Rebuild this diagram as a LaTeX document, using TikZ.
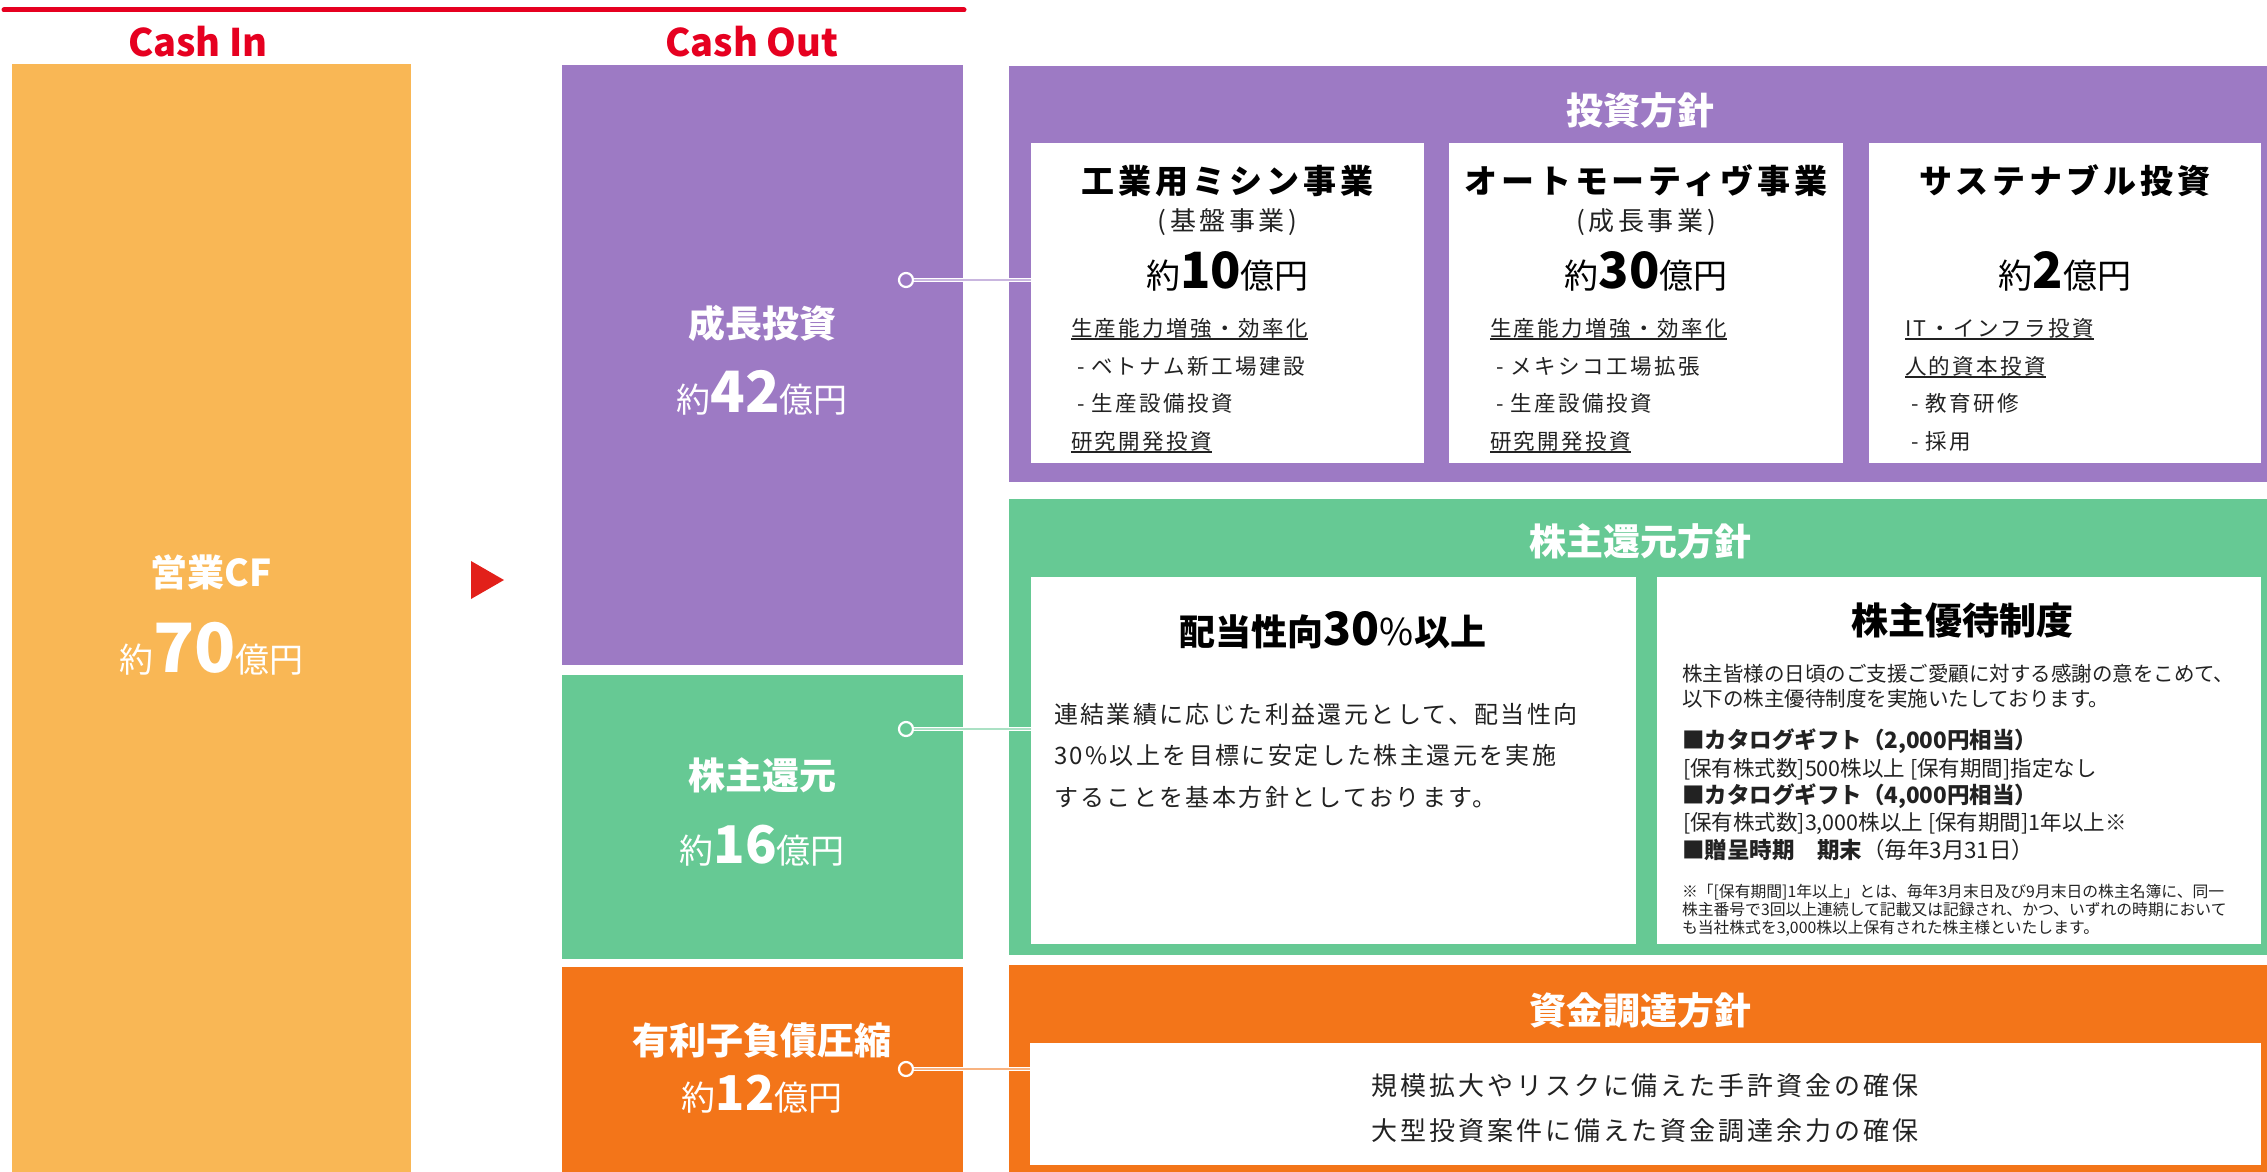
\documentclass[tikz,border=0pt]{standalone}
\usepackage{fontspec}
\setmainfont{Noto Sans CJK JP}
\definecolor{cin}{RGB}{249,183,85}
\definecolor{pur}{RGB}{157,122,196}
\definecolor{grn}{RGB}{102,201,148}
\definecolor{org}{RGB}{243,117,25}
\definecolor{redA}{RGB}{230,0,32}
\definecolor{triA}{RGB}{226,32,26}
\definecolor{ink}{RGB}{34,34,34}
\newcommand\fsz[1]{\fontsize{#1}{#1}\selectfont}
\newcommand\trk[1]{\addfontfeatures{LetterSpace=#1}}
\newsavebox\ulbox
\newcommand\ul[1]{\sbox\ulbox{#1}\rlap{\rule[-3.5pt]{\wd\ulbox}{1.4pt}}\usebox\ulbox}
\newcommand\amt[2]{{\fsz{34}約}{\bfseries\fsz{#1}#2}{\fsz{34}億円}}
\begin{document}
\begin{tikzpicture}[x=1pt,y=-1pt,
  box/.style={rectangle, draw=none, inner sep=0, outer sep=0, anchor=north west},
  txt/.style={inner sep=0, outer sep=0, anchor=base},
  ltxt/.style={inner sep=0, outer sep=0, anchor=base west},
  wlab/.style={txt, text=white, font=\bfseries\fsz{37}},
  wamt/.style={txt, text=white},
  ttl/.style={txt, text=black, font=\bfseries\fsz{33}\trk{12}},
  sub/.style={txt, text=ink, font=\fsz{26}\trk{14}},
  item/.style={ltxt, text=ink, font=\fsz{21.5}\trk{11.6}},
  bodyL/.style={ltxt, text=ink, font=\fsz{24}\trk{10}},
  bodyR/.style={ltxt, text=ink, font=\fsz{20.5}},
  note/.style={ltxt, text=ink, font=\fsz{15.8}},
  bodyO/.style={txt, text=ink, font=\fsz{26}\trk{11.5}},
  hdr/.style={txt, text=redA, font=\bfseries\fsz{38}},
  dot/.style={circle, draw=white, line width=2.2pt, minimum size=14pt, inner sep=0},
  conn/.style={draw=white, line width=1.6pt, double distance=1.6pt}
]
\useasboundingbox (0,0) rectangle (2267,1172);

% header
\draw[redA, line width=5pt, line cap=round] (4,10) -- (964,10);
\node[hdr] (hin) at (198,57) {Cash In};
\node[hdr] (hout) at (752,57) {Cash Out};

% left column
\node[box, fill=cin, minimum width=399, minimum height=1108] (cinb) at (12,64) {};
\node[wlab] (cf) at (211.5,586) {営業CF};
\node[wamt] (cfa) at (211.5,672) {\amt{68}{70}};

\fill[triA] (471,561) -- (504,580) -- (471,599) -- cycle;

% cash out column
\node[box, fill=pur, minimum width=401, minimum height=600] (grow) at (562,65) {};
\node[box, fill=grn, minimum width=401, minimum height=284] (shr) at (562,675) {};
\node[box, fill=org, minimum width=401, minimum height=205] (debt) at (562,967) {};
\node[wlab] (growl) at (762,337) {成長投資};
\node[wamt] (growa) at (762,412) {\amt{57}{42}};
\node[wlab] (shrl) at (762,789) {株主還元};
\node[wamt] (shra) at (762,863) {\amt{52}{16}};
\node[wlab] (debtl) at (762,1054) {有利子負債圧縮};
\node[wamt] (debta) at (762,1110) {\amt{48}{12}};

% investment policy panel
\node[box, fill=pur, minimum width=1258, minimum height=416] (invp) at (1009,66) {};
\node[wlab] (invt) at (1640,124) {投資方針};
\node[box, fill=white, minimum width=393, minimum height=320] (w1) at (1031,143) {};
\node[box, fill=white, minimum width=394, minimum height=320] (w2) at (1449,143) {};
\node[box, fill=white, minimum width=392, minimum height=320] (w3) at (1869,143) {};

\node[ttl] (t1) at (1227.5,193) {工業用ミシン事業};
\node[sub] (s1) at (1227.5,230) {(基盤事業)};
\node[txt, text=black] (a1) at (1227.5,288) {\amt{50}{10}};
\node[item] (i11) at (1071,336) {\ul{生産能力増強・効率化}};
\node[item] (i12) at (1077,374) {- ベトナム新工場建設};
\node[item] (i13) at (1077,411) {- 生産設備投資};
\node[item] (i14) at (1071,449) {\ul{研究開発投資}};

\node[ttl] (t2) at (1646,193) {オートモーティヴ事業};
\node[sub] (s2) at (1646,230) {(成長事業)};
\node[txt, text=black] (a2) at (1646,288) {\amt{50}{30}};
\node[item] (i21) at (1490,336) {\ul{生産能力増強・効率化}};
\node[item] (i22) at (1496,374) {- メキシコ工場拡張};
\node[item] (i23) at (1496,411) {- 生産設備投資};
\node[item] (i24) at (1490,449) {\ul{研究開発投資}};

\node[ttl] (t3) at (2065,193) {サステナブル投資};
\node[txt, text=black] (a3) at (2065,288) {\amt{50}{2}};
\node[item] (i31) at (1905,336) {\ul{IT・インフラ投資}};
\node[item] (i32) at (1905,374) {\ul{人的資本投資}};
\node[item] (i33) at (1911,411) {- 教育研修};
\node[item] (i34) at (1911,449) {- 採用};

% shareholder return panel
\node[box, fill=grn, minimum width=1258, minimum height=456] (shrp) at (1009,499) {};
\node[wlab] (shrt) at (1640,555) {株主還元方針};
\node[box, fill=white, minimum width=605, minimum height=367] (w4) at (1031,577) {};
\node[box, fill=white, minimum width=604, minimum height=367] (w5) at (1657,577) {};

\node[txt, text=black] (p1) at (1333,645) {{\bfseries\fsz{36}配当性向}{\bfseries\fsz{46}30}{\fsz{37}\%}{\bfseries\fsz{36}以上}};
\node[bodyL] (b1) at (1054,723) {連結業績に応じた利益還元として、配当性向};
\node[bodyL] (b2) at (1054,764) {30\%以上を目標に安定した株主還元を実施};
\node[bodyL] (b3) at (1054,806) {することを基本方針としております。};

\node[txt, text=black, font=\bfseries\fsz{37}] (p2) at (1962,634) {株主優待制度};
\node[bodyR] (r1) at (1682,681) {株主皆様の日頃のご支援ご愛顧に対する感謝の意をこめて、};
\node[bodyR] (r2) at (1682,706) {以下の株主優待制度を実施いたしております。};
\node[bodyR, font=\bfseries\fsz{22.5}] (r3) at (1682,748) {■カタログギフト（2,000円相当）};
\node[bodyR, font=\fsz{21.5}] (r4) at (1683,776) {[保有株式数]500株以上 [保有期間]指定なし};
\node[bodyR, font=\bfseries\fsz{22.5}] (r5) at (1682,803) {■カタログギフト（4,000円相当）};
\node[bodyR, font=\fsz{21.5}] (r6) at (1683,830) {[保有株式数]3,000株以上 [保有期間]1年以上※};
\node[bodyR, font=\fsz{22.5}] (r7) at (1682,858) {{\bfseries ■贈呈時期　期末}（毎年3月31日）};
\node[note] (n1) at (1682,897) {※「[保有期間]1年以上」とは、毎年3月末日及び9月末日の株主名簿に、同一};
\node[note] (n2) at (1682,915) {株主番号で3回以上連続して記載又は記録され、かつ、いずれの時期において};
\node[note] (n3) at (1682,933) {も当社株式を3,000株以上保有された株主様といたします。};

% funding policy panel
\node[box, fill=org, minimum width=1258, minimum height=207] (fndp) at (1009,965) {};
\node[wlab] (fndt) at (1640,1024) {資金調達方針};
\node[box, fill=white, minimum width=1231, minimum height=122] (w6) at (1030,1043) {};
\node[bodyO] (o1) at (1645,1095) {規模拡大やリスクに備えた手許資金の確保};
\node[bodyO] (o2) at (1645,1140) {大型投資案件に備えた資金調達余力の確保};

% connectors
\node[dot, fill=pur] (c1) at (906,280) {};
\node[dot, fill=grn] (c2) at (906,729) {};
\node[dot, fill=org] (c3) at (906,1069) {};
\draw[conn, double=pur!55!white] (c1.east) -- (c1.east -| w1.west);
\draw[conn, double=grn!55!white] (c2.east) -- (c2.east -| w4.west);
\draw[conn, double=org!55!white] (c3.east) -- (c3.east -| w6.west);
\end{tikzpicture}
\end{document}
